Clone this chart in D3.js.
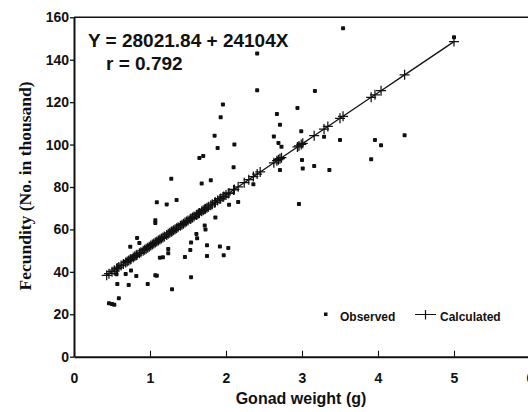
<!DOCTYPE html>
<html><head><meta charset="utf-8">
<script src="https://cdn.jsdelivr.net/npm/d3@7"></script>
<style>
html,body{margin:0;padding:0;background:#fff;overflow:hidden;}
svg{display:block;}
</style></head>
<body>
<script>
// ---- Data (fecundity in thousands) ----
const obsX = [0.46,0.50,0.53,0.59,0.57,0.56,0.68,0.75,0.82,0.72,0.97,1.07,1.09,1.29,0.74,0.83,0.86,1.07,1.07,1.13,1.17,1.24,1.24,1.09,1.22,1.35,1.28,1.46,1.54,1.53,1.54,1.61,1.62,1.72,1.73,1.75,1.75,1.86,1.92,2.03,1.97,2.04,2.16,1.68,1.80,1.65,1.70,1.85,1.89,1.93,1.96,2.11,2.10,2.41,2.41,2.36,
  2.63,2.67,2.71,2.69,2.73,2.71,2.94,2.99,3.00,3.01,2.96,3.17,3.16,3.29,3.36,3.50,3.54,3.91,3.96,4.04,4.35,5.00];
const obsY = [25.2,24.8,24.5,27.6,34.3,38.9,39.0,40.6,38.0,33.8,34.3,38.4,38.2,31.8,51.8,56.0,53.6,64.3,63.0,46.7,46.9,50.8,48.8,72.8,71.8,73.9,83.9,47.0,53.8,50.3,37.5,57.9,55.8,61.8,60.0,52.5,47.5,65.6,51.9,51.3,47.8,71.6,72.9,81.6,83.2,93.7,94.6,104.2,98.4,112.9,118.9,100.0,89.3,142.9,125.6,81.3,
  103.8,114.4,109.3,100.8,99.0,88.0,117.3,106.3,92.7,88.7,72.0,125.3,89.9,103.7,88.0,102.2,154.8,93.1,102.2,99.7,104.4,150.6];

// Calculated values (on the regression line Y = 28021.84 + 24104X)
const calcX = [0.43,0.46,0.50,0.53,0.56,0.57,0.59,0.62,0.65,0.68,0.70,0.72,0.74,0.75,0.78,0.80,0.82,0.83,0.86,0.88,0.91,0.93,0.95,0.97,0.99,1.01,1.03,1.05,1.07,1.09,1.11,1.13,1.15,1.17,1.19,1.22,1.24,1.26,1.28,1.29,1.31,1.33,1.35,1.37,1.40,1.42,1.44,1.46,1.48,1.50,1.53,1.54,1.56,1.58,1.61,1.62,1.64,1.65,1.68,1.70,1.72,1.73,1.75,1.77,1.80,1.82,1.85,1.86,1.89,1.92,1.93,1.96,1.97,2.00,2.03,2.04,2.10,2.11,2.16,2.24,2.30,2.36,2.41,2.45,2.63,2.67,2.69,2.71,2.73,2.94,2.96,2.99,3.01,3.16,3.29,3.34,3.50,3.54,3.91,3.96,4.04,4.35,5.00];
const calcY = [38.38,39.11,40.07,40.80,41.52,41.76,42.24,42.96,43.69,44.41,44.89,45.38,45.86,46.10,46.82,47.30,47.79,48.03,48.75,49.23,49.96,50.44,50.92,51.40,51.88,52.37,52.85,53.33,53.81,54.29,54.78,55.26,55.74,56.22,56.70,57.43,57.91,58.39,58.87,59.11,59.60,60.08,60.56,61.04,61.77,62.25,62.73,63.21,63.69,64.18,64.90,65.14,65.62,66.10,66.83,67.07,67.55,67.79,68.52,69.00,69.48,69.72,70.20,70.68,71.41,71.89,72.61,72.85,73.58,74.30,74.54,75.26,75.51,76.23,76.95,77.19,78.64,78.88,80.08,82.01,83.46,84.91,86.11,87.08,91.41,92.38,92.86,93.34,93.82,98.89,99.37,100.09,100.57,104.19,107.32,108.53,112.38,113.35,122.27,123.47,125.40,132.87,148.54];

const xTicks = [0,1,2,3,4,5,6];
const yTicks = [0,20,40,60,80,100,120,140,160];
const equationText = "Y = 28021.84 + 24104X";
const rText = "r = 0.792";
const xTitle = "Gonad weight (g)";
const yTitle = "Fecundity (No. in thousand)";
const legendLabels = ["Observed","Calculated"];

// ---- Drawing ----
const W = 528, H = 412;
const ink = "#111";
const sans = "'Liberation Sans', Arial, Helvetica, sans-serif";
const serif = "'Liberation Serif', 'Times New Roman', serif";

const svg = d3.select("body").append("svg").attr("width", W).attr("height", H);

const x = d3.scaleLinear().domain([0,6]).range([74,530]);
const y = d3.scaleLinear().domain([0,160]).range([356.7,17.3]);

// top frame line
svg.append("line").attr("x1", x(0)).attr("x2", x(6)).attr("y1", y(160)).attr("y2", y(160))
  .attr("stroke", ink).attr("stroke-width", 1.5);
svg.append("line").attr("x1", x(6)).attr("x2", x(6)).attr("y1", y(160)).attr("y2", y(0))
  .attr("stroke", ink).attr("stroke-width", 1.5);

const yAxis = svg.append("g").attr("transform", `translate(${x(0)},0)`)
  .call(d3.axisLeft(y).tickValues(yTicks).tickSizeInner(4).tickSizeOuter(0).tickPadding(1).tickFormat(d3.format("d")));
yAxis.select(".domain").attr("stroke", ink).attr("stroke-width", 2);
yAxis.selectAll(".tick line").attr("stroke", ink).attr("stroke-width", 1.3);
yAxis.selectAll(".tick text").attr("fill", ink).style("font-family", sans)
  .style("font-size", "14px").style("font-weight", "bold");

const xAxis = svg.append("g").attr("transform", `translate(0,${y(0)})`)
  .call(d3.axisBottom(x).tickValues(xTicks).tickSizeInner(-6).tickSizeOuter(0).tickPadding(16).tickFormat(d3.format("d")));
xAxis.select(".domain").attr("stroke", ink).attr("stroke-width", 2);
xAxis.selectAll(".tick line").attr("stroke", ink).attr("stroke-width", 1.1);
xAxis.selectAll(".tick text").attr("fill", ink).style("font-family", sans)
  .style("font-size", "14px").style("font-weight", "bold");

// regression line through calculated values
const calc = calcX.map((v,i) => ({x: v, y: calcY[i]})).sort((a,b) => a.x - b.x);
svg.append("path").datum(calc)
  .attr("d", d3.line().x(d => x(d.x)).y(d => y(d.y)))
  .attr("fill", "none").attr("stroke", ink).attr("stroke-width", 1.3);

// calculated markers (+)
const arm = 5;
svg.append("g").selectAll("path.calc").data(calc).join("path")
  .attr("d", d => {
    const cx = x(d.x), cy = y(d.y);
    return `M${cx-arm},${cy}H${cx+arm}M${cx},${cy-arm}V${cy+arm}`;
  })
  .attr("stroke", ink).attr("stroke-width", 1.25).attr("fill", "none");

// observed points
const obs = obsX.map((v,i) => ({x: v, y: obsY[i]}));
const s = 4;
svg.append("g").selectAll("rect").data(obs).join("rect")
  .attr("x", d => x(d.x) - s/2).attr("y", d => y(d.y) - s/2)
  .attr("width", s).attr("height", s).attr("rx", 0.8).attr("fill", ink);

// equation text
svg.append("text").attr("x", 88).attr("y", 47).text(equationText)
  .attr("fill", ink).style("font-family", sans).style("font-size", "19px").style("font-weight", "bold");
svg.append("text").attr("x", 106).attr("y", 70).text(rText)
  .attr("fill", ink).style("font-family", sans).style("font-size", "19px").style("font-weight", "bold");

// axis titles
svg.append("text").attr("x", 301).attr("y", 404).attr("text-anchor", "middle").text(xTitle)
  .attr("fill", ink).style("font-family", sans).style("font-size", "16px").style("font-weight", "bold");
svg.append("text").attr("transform", "translate(31,186) rotate(-90)").attr("text-anchor", "middle").text(yTitle)
  .attr("fill", ink).style("font-family", serif).style("font-size", "17.5px").style("font-weight", "bold");

// legend
const lg = svg.append("g");
lg.append("rect").attr("x", 324).attr("y", 312.5).attr("width", 3.5).attr("height", 3.5).attr("fill", ink);
lg.append("text").attr("x", 340).attr("y", 321).text(legendLabels[0])
  .attr("fill", ink).style("font-family", sans).style("font-size", "12px").style("font-weight", "bold");
lg.append("path").attr("d", "M415,314.5H436M425.5,310V319.5")
  .attr("stroke", ink).attr("stroke-width", 1.2).attr("fill", "none");
lg.append("text").attr("x", 440).attr("y", 321).text(legendLabels[1])
  .attr("fill", ink).style("font-family", sans).style("font-size", "12px").style("font-weight", "bold");
</script>
</body></html>
